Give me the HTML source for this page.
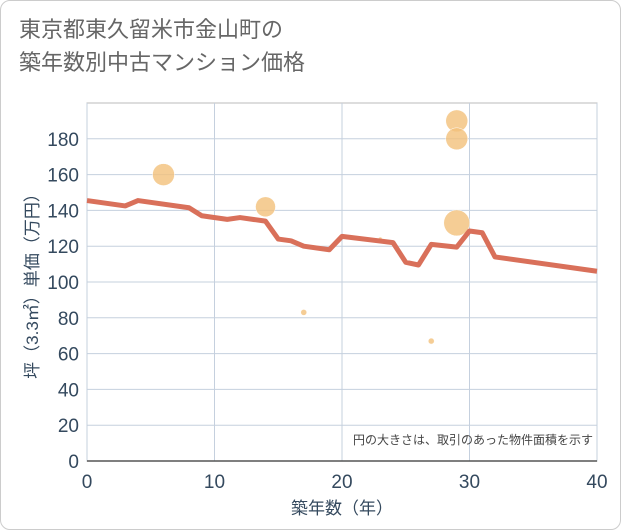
<!DOCTYPE html>
<html><head><meta charset="utf-8"><style>
body{margin:0;background:#fff;}
#wrap{width:619px;height:528px;border:1px solid #ccc;border-radius:10px;position:relative;overflow:hidden;background:#fff;font-family:"Liberation Sans","Noto Sans CJK JP",sans-serif;}
h1{position:absolute;left:18px;top:12px;margin:0;font-size:22px;font-weight:normal;color:#666;line-height:33px;}
</style></head><body>
<div id="wrap">
<h1>東京都東久留米市金山町の<br>築年数別中古マンション価格</h1>
<svg id="svg" width="621" height="530" style="position:absolute;left:-1px;top:-1px"></svg>
</div>
<script>
const xTicks=[0,10,20,30,40];
const yTicks=[0,20,40,60,80,100,120,140,160,180];
const lineYears=[0,3,4,8,9,11,12,14,15,16,17,19,20,24,25,26,27,29,30,31,32,40];
const linePrices=[145.5,142.5,145.5,141.5,137,135,136,134,124,123,120,118,125.5,122,111,109.5,121,119.5,128.5,127.5,114,106];
const bubbleYears=[6,14,17,23,27,29,29,29];
const bubblePrices=[160,142,83,124,67,190,180,133];
const bubbleSizes=[11,10,3,2,3,11,11,13];
const NS="http://www.w3.org/2000/svg";
const svg=document.getElementById('svg');
const X0=87,X1=597,Y0=461,YT=103;
const xs=v=>X0+(X1-X0)*v/40;
const ys=v=>Y0-v*1.79;
const TC='#34495e';
function mk(t,a){const e=document.createElementNS(NS,t);for(const k in a)e.setAttribute(k,a[k]);svg.appendChild(e);return e;}
let bg=mk('rect',{x:X0,y:YT,width:X1-X0,height:Y0-YT,fill:'#fff',stroke:'#bbb'});


yTicks.forEach(v=>{
 const g=mk('line',{x1:X0,x2:X1,y1:ys(v),y2:ys(v),stroke:'#c5d0de','stroke-width':1});
 
 
 const t=mk('text',{x:X0-8,y:ys(v)+7,'text-anchor':'end','font-size':19,fill:TC});
 t.textContent=v;
 
 
});
xTicks.forEach(v=>{
 const g=mk('line',{x1:xs(v),x2:xs(v),y1:YT,y2:Y0,stroke:'#c5d0de','stroke-width':1});
 
 
 const t=mk('text',{x:xs(v),y:488,'text-anchor':'middle','font-size':19,fill:TC});
 t.textContent=v;
 
 
});
let ax=mk('line',{x1:X0,x2:X1,y1:Y0,y2:Y0,stroke:'#555','stroke-width':1.5});


bubbleYears.forEach((y,i)=>{
 const c=mk('circle',{cx:xs(y),cy:ys(bubblePrices[i]),r:bubbleSizes[i],fill:'#f2c17a','fill-opacity':0.8,stroke:'#fff','stroke-width':0.5});
 
 
});
const pl=mk('polyline',{points:lineYears.map((y,i)=>xs(y)+','+ys(linePrices[i])).join(' '),fill:'none',stroke:'#d9705a','stroke-width':5,'stroke-linejoin':'round'});


const note=mk('text',{x:593,y:444,'text-anchor':'end','font-size':12,fill:'#444'});
note.textContent='円の大きさは、取引のあった物件面積を示す';


const xt=mk('text',{x:342,y:514,'text-anchor':'middle','font-size':17,fill:TC});
xt.textContent='築年数（年）';


const yt=mk('text',{x:0,y:0,'text-anchor':'middle','font-size':17,fill:TC,transform:'translate(38,282) rotate(-90)'});
yt.textContent='坪（3.3㎡）単価（万円）';


</script>
</body></html>
